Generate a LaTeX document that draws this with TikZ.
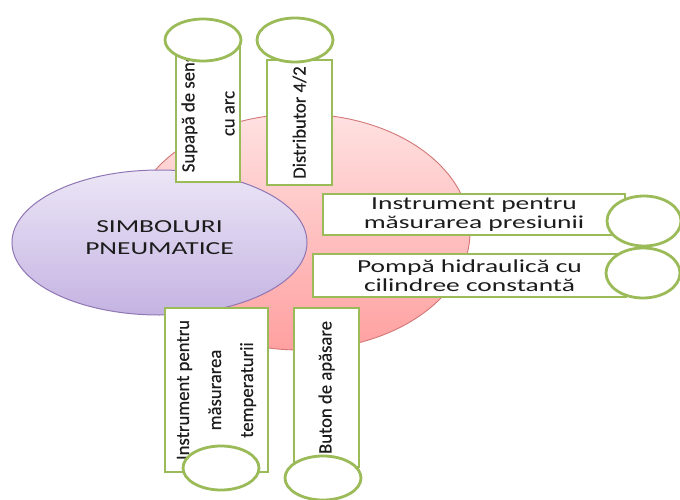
\documentclass[tikz,border=0pt]{standalone}
\usepackage{fontspec}
\setmainfont{Carlito}
\newfontfamily\widefont[FakeStretch=1.5]{Carlito}
\newfontfamily\tallfont[FakeBold=0.4]{Carlito}
\usetikzlibrary{shapes.geometric}
\definecolor{boxgreen}{HTML}{9BBB59}
\definecolor{pinkline}{HTML}{D27676}
\definecolor{pinktop}{HTML}{FFE1E1}
\definecolor{pinkbot}{HTML}{FFA0A0}
\definecolor{lilacline}{HTML}{8F76B4}
\definecolor{lilactop}{HTML}{ECE6F6}
\definecolor{lilacbot}{HTML}{C4B3E2}
\definecolor{txt}{HTML}{1C1C1C}
\begin{document}
\begin{tikzpicture}[x=1pt,y=-1pt,
	backoval/.style={ellipse,draw=pinkline,line width=0.9pt,top color=pinktop,bottom color=pinkbot,minimum width=340pt,minimum height=236pt,inner sep=0pt},
	mainoval/.style={ellipse,draw=lilacline,line width=1pt,top color=lilactop,bottom color=lilacbot,minimum width=295pt,minimum height=145pt,inner sep=0pt,align=center,text=txt,font=\widefont\fontsize{18.3}{21.3}\selectfont},
	hlabel/.style={rectangle,draw=boxgreen,line width=2.8pt,fill=white,inner sep=1pt,align=center,text=txt,font=\widefont\fontsize{18.3}{18.7}\selectfont},
	vlabel/.style={rectangle,draw=boxgreen,line width=2.8pt,fill=white,inner sep=1pt,align=center,text=txt,rotate=90,font=\tallfont\fontsize{18.7}{32}\selectfont},
	bubble/.style={ellipse,draw=boxgreen,line width=2.8pt,fill=white,inner sep=0pt,minimum width=76pt,minimum height=44pt}]
		\useasboundingbox (0,0) rectangle (680,500);
		\node[backoval] (fundal) at (300,232) {};
		\node[mainoval] (simboluri) at (159.5,242.5) {SIMBOLURI\\PNEUMATICE\rule[-10pt]{0pt}{10pt}};
		% sus
		\node[vlabel,minimum width=137pt,minimum height=64pt,font=\tallfont\fontsize{18.7}{40}\selectfont] (supapa) at (208,113.5) {Supapă de sens\\cu arc};
		\node[bubble,minimum height=42pt] (supapa-o) at (203,40) {};
		\node[vlabel,minimum width=125pt,minimum height=65pt] (distrib) at (299.5,122.5) {Distributor 4/2};
		\node[bubble] (distrib-o) at (295,40) {};
		% dreapta
		\node[hlabel,minimum width=302pt,minimum height=41pt] (presiune) at (474,214.5) {Instrument pentru\\măsurarea presiunii};
		\node[bubble,minimum width=74pt,minimum height=50pt] (presiune-o) at (644,221) {};
		\node[hlabel,minimum width=313pt,minimum height=43pt] (pompa) at (469.5,275.5) {Pompă hidraulică cu\\cilindree constantă};
		\node[bubble,minimum width=74pt,minimum height=50pt] (pompa-o) at (643,273) {};
		% jos
		\node[vlabel,minimum width=164pt,minimum height=103pt] (temp) at (216.5,390) {Instrument pentru\\măsurarea\\temperaturii};
		\node[bubble] (temp-o) at (221,468) {};
		\node[vlabel,minimum width=159pt,minimum height=65pt] (buton) at (326.5,387.5) {Buton de apăsare};
		\node[bubble] (buton-o) at (323,478) {};
		\end{tikzpicture}
\end{document}
